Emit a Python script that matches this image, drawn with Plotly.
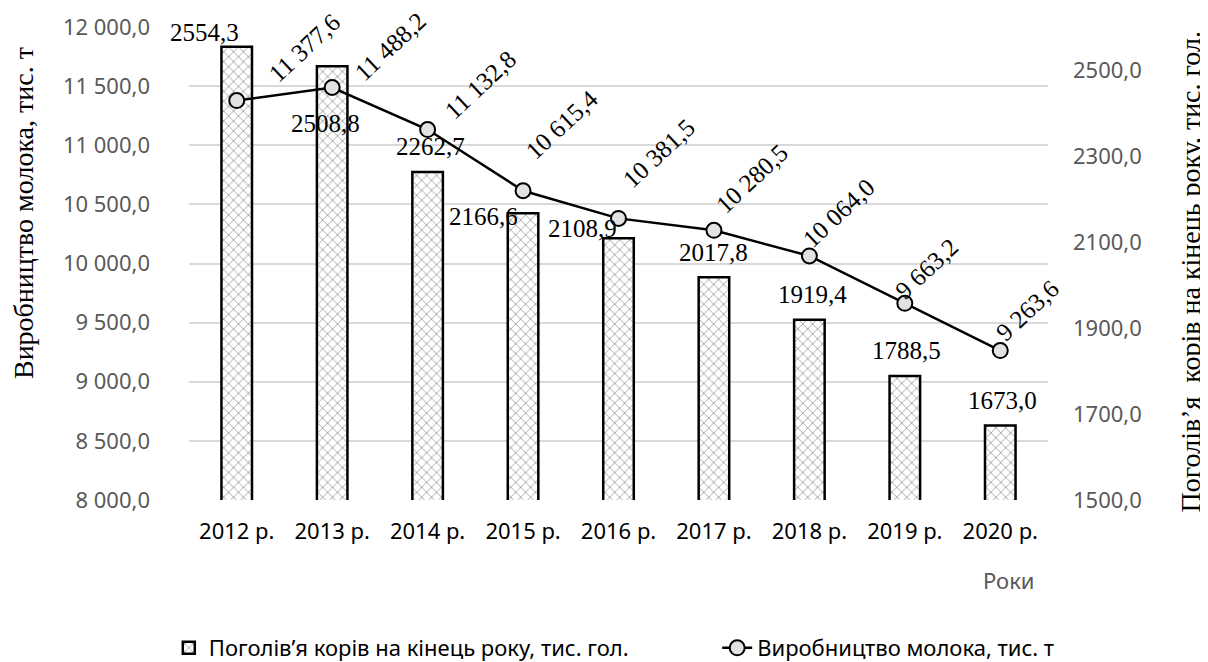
import plotly.graph_objects as go

# ---- data ----
years = ["2012 р.", "2013 р.", "2014 р.", "2015 р.", "2016 р.", "2017 р.", "2018 р.", "2019 р.", "2020 р."]
cows = [2554.3, 2508.8, 2262.7, 2166.6, 2108.9, 2017.8, 1919.4, 1788.5, 1673.0]
milk = [11377.6, 11488.2, 11132.8, 10615.4, 10381.5, 10280.5, 10064.0, 9663.2, 9263.6]

cows_name = "Поголів’я корів на кінець року, тис. гол."
milk_name = "Виробництво молока, тис. т"
left_title = "Виробництво молока, тис. т"
right_title = "Поголів’я\u00a0 корів на кінець року, тис. гол."
x_title = "Роки"

# label placement offsets (pixels) – style only
milk_dx = [68, 58, 53, 39, 40, 38, 30, 22, 27]
milk_dy = [53, 41, 45, 66, 65, 52, 43, 35, 40]
cow_dx = [-32, -7, 3, -40, -36, 0, 3, 2, 2]
cow_dy = [14, -57, 26, -3, 10, 25, 25, 25, 25]


def fmt_plain(v):
    return f"{v:.1f}".replace(".", ",")


def fmt_group(v):
    return f"{v:,.1f}".replace(",", " ").replace(".", ",")


SERIF = "Liberation Serif, Times New Roman, serif"
SANS = "Noto Sans, Open Sans, sans-serif"
GRAY = "#595959"

fig = go.Figure()

fig.add_trace(go.Bar(
    x=years, y=cows, name=cows_name, yaxis="y", width=0.32, legend="legend",
    marker=dict(
        color="white",
        line=dict(color="black", width=2.5),
        pattern=dict(shape="x", fgcolor="#333333", bgcolor="white", size=7, solidity=0.22),
    ),
))

fig.add_trace(go.Scatter(
    x=years, y=milk, name=milk_name, yaxis="y2", mode="lines+markers", legend="legend2",
    line=dict(color="black", width=2.5),
    marker=dict(symbol="circle", size=15, color="#e2e2e2", line=dict(color="black", width=2)),
))

annotations = []
for i, (xv, v) in enumerate(zip(years, cows)):
    annotations.append(dict(
        x=xv, y=v, xref="x", yref="y", text=fmt_plain(v), showarrow=False,
        xanchor="center", yanchor="middle", xshift=cow_dx[i], yshift=cow_dy[i],
        font=dict(family=SERIF, size=25, color="black"),
    ))
for i, (xv, v) in enumerate(zip(years, milk)):
    annotations.append(dict(
        x=xv, y=v, xref="x", yref="y2", text=fmt_group(v), showarrow=False,
        xanchor="center", yanchor="middle", xshift=milk_dx[i], yshift=milk_dy[i],
        textangle=-43, font=dict(family=SERIF, size=25, color="black"),
    ))

# axis titles
annotations.append(dict(
    x=-0.192, y=0.962, xref="paper", yref="paper", text=left_title, showarrow=False,
    textangle=-90, xanchor="center", yanchor="top",
    font=dict(family=SERIF, size=28, color="black"),
))
annotations.append(dict(
    x=1.166, y=0.995, xref="paper", yref="paper", text=right_title, showarrow=False,
    textangle=-90, xanchor="center", yanchor="top",
    font=dict(family=SERIF, size=28, color="black"),
))
annotations.append(dict(
    x=0.955, y=-0.169, xref="paper", yref="paper", text=x_title, showarrow=False,
    xanchor="center", yanchor="middle",
    font=dict(family=SANS, size=22, color=GRAY),
))

legend_common = dict(
    orientation="h", xref="container", yref="container",
    xanchor="left", y=0.0214, yanchor="middle",
    font=dict(family=SANS, size=22, color="black"),
    bgcolor="rgba(0,0,0,0)",
)

fig.update_layout(
    width=1200, height=654,
    margin=dict(l=181, r=160, t=19, b=162, autoexpand=False),
    paper_bgcolor="white", plot_bgcolor="white",
    separators=", ",
    showlegend=True,
    legend=dict(x=0.134, **legend_common),
    legend2=dict(x=0.591, **legend_common),
    xaxis=dict(
        type="category", range=[-0.5, 8.5], showgrid=False, showline=False, ticks="",
        tickfont=dict(family=SANS, size=22, color="black"),
        zeroline=False, automargin=False, ticklabelstandoff=16,
    ),
    yaxis=dict(
        side="right", range=[1500, 2600], tick0=1500, dtick=200,
        tickformat=".1f", showgrid=False, zeroline=False, showline=False, ticks="",
        ticklabelstandoff=24, automargin=False,
        tickfont=dict(family=SANS, size=22, color=GRAY),
    ),
    yaxis2=dict(
        side="left", overlaying="y", range=[8000, 12000], dtick=500,
        tickformat=",.1f", showgrid=True, gridcolor="#d9d9d9", gridwidth=1.5,
        zeroline=False, showline=False, ticks="", ticklabelstandoff=38,
        automargin=False,
        tickfont=dict(family=SANS, size=22, color=GRAY),
    ),
    annotations=annotations,
)

fig.write_html("out.html")
